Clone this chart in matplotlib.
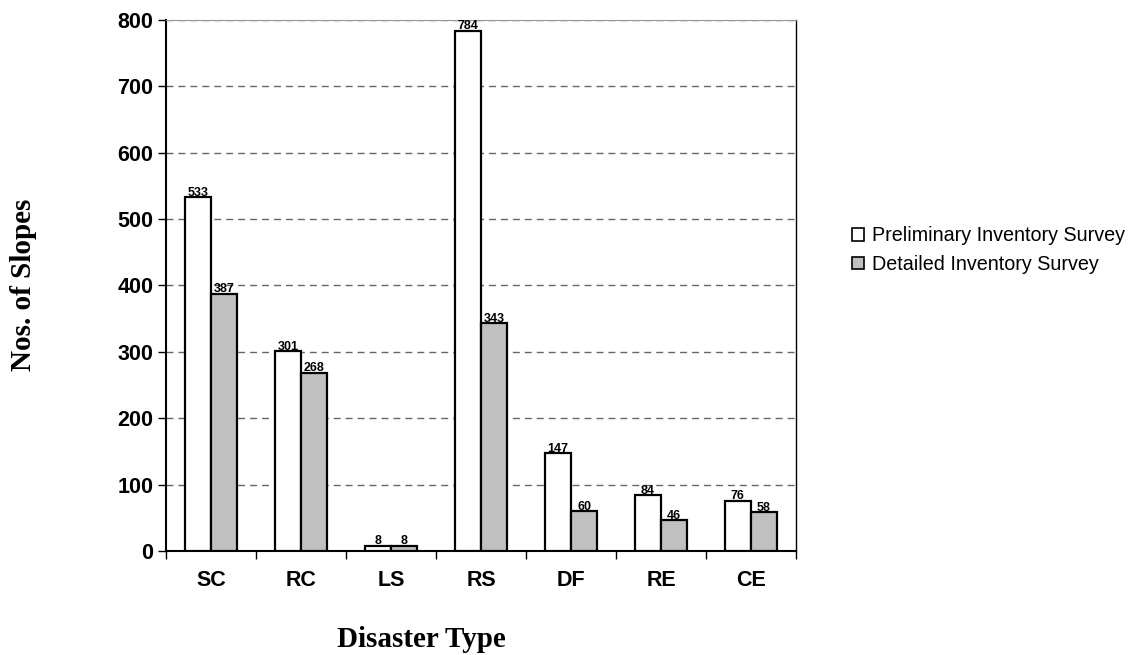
import numpy as np
import matplotlib.pyplot as plt
from matplotlib.patches import Patch

categories = ['SC', 'RC', 'LS', 'RS', 'DF', 'RE', 'CE']
preliminary = [533, 301, 8, 784, 147, 84, 76]
detailed = [387, 268, 8, 343, 60, 46, 58]

plt.rcParams['font.family'] = ['Liberation Sans', 'DejaVu Sans']

fig = plt.figure(figsize=(11.35, 6.55), dpi=100)
ax = fig.add_axes([0.1463, 0.1588, 0.5550, 0.8107])

x = np.arange(len(categories))
w = 0.29
b1 = ax.bar(x - w / 2, preliminary, w, color='white', edgecolor='black', linewidth=1.6,
            label='Preliminary Inventory Survey', zorder=3)
b2 = ax.bar(x + w / 2, detailed, w, color='#c0c0c0', edgecolor='black', linewidth=1.6,
            label='Detailed Inventory Survey', zorder=3)
for bars in (b1, b2):
    ax.bar_label(bars, padding=-1, fontsize=9, fontweight='bold')

ax.set_xlim(-0.5, len(categories) - 0.5)
ax.set_ylim(0, 800)
ax.set_yticks(range(0, 801, 100))
ax.yaxis.grid(True, linestyle=(0, (5, 3.6)), color='#666666', linewidth=1.0, zorder=0)
ax.set_axisbelow(True)

ax.set_xticks(x)
ax.set_xticklabels(categories, fontsize=15.5, fontweight='bold')
ax.set_xticks(np.arange(-0.5, len(categories)), minor=True)
ax.tick_params(axis='x', which='major', length=0, pad=14)
ax.tick_params(axis='x', which='minor', length=6, width=1)
ax.tick_params(axis='y', length=6, width=1, labelsize=15.5, pad=3)
for lab in ax.get_yticklabels():
    lab.set_fontweight('bold')

ax.spines['left'].set_linewidth(1.5)
ax.spines['bottom'].set_linewidth(1.5)
ax.spines['right'].set_linewidth(1.0)
ax.spines['top'].set_color('#999999')
ax.spines['top'].set_linewidth(0.8)

fig.text(0.021, 0.5645, 'Nos. of Slopes', rotation=90, ha='center', va='center',
         fontsize=21, fontweight='bold', family='Liberation Serif')
fig.text(0.371, 0.0115, 'Disaster Type', ha='center', va='baseline',
         fontsize=21, fontweight='bold', family='Liberation Serif')

handles = [Patch(facecolor='white', edgecolor='black', linewidth=1.2),
           Patch(facecolor='#c0c0c0', edgecolor='black', linewidth=1.2)]
fig.legend(handles, ['Preliminary Inventory Survey', 'Detailed Inventory Survey'],
           loc='center left', bbox_to_anchor=(0.735, 0.618), frameon=False,
           fontsize=14.2, handlelength=0.6, handleheight=0.6, handletextpad=0.4,
           labelspacing=0.5)

fig.savefig('out.png', dpi=100)
